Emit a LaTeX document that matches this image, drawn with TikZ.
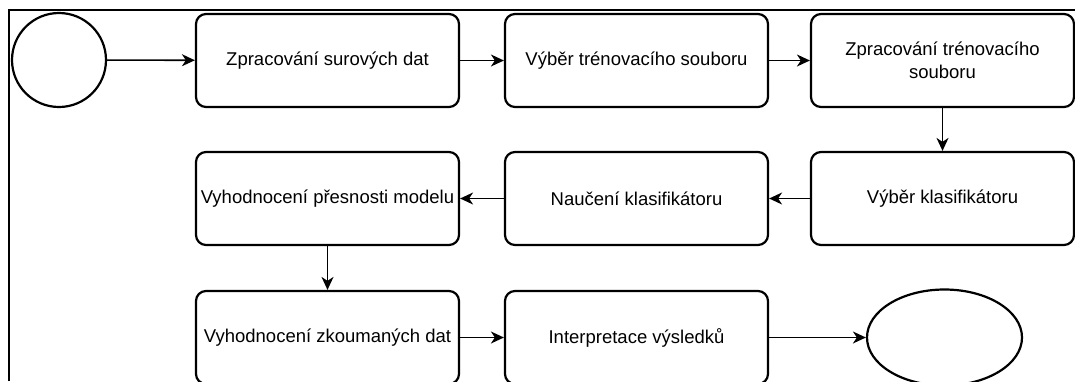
\documentclass[tikz,border=0pt]{standalone}
\usepackage{fontspec}
\setmainfont{Liberation Sans}
\usetikzlibrary{arrows.meta,shapes.geometric}
\begin{document}
\begin{tikzpicture}[x=1pt,y=-1pt,
  stepbox/.style={draw,line width=2.2pt,rounded corners=10pt,minimum width=263pt,minimum height=93pt,inner sep=0pt,align=center,font=\fontsize{18.5}{23}\selectfont},
  conn/.style={line width=1.6pt,-{Stealth[length=13pt,width=12pt,inset=4pt]}},
  frame/.style={line width=2.2pt}]
\useasboundingbox (0,0) rectangle (1075,381);
\begin{scope}
\clip (0,0) rectangle (1075,381);
\draw[frame] (9,381) -- (9,10) -- (1075,10);
\node[draw,circle,line width=2.2pt,minimum size=94pt,inner sep=0pt] (start) at (59,60) {};
\node[stepbox] (a) at (327.5,60.5) {Zpracování surových dat};
\node[stepbox] (b) at (636.5,60.5) {Výběr trénovacího souboru};
\node[stepbox] (c) at (942.5,60.5) {Zpracování trénovacího\\souboru};
\node[stepbox] (d) at (942.5,198.5) {Výběr klasifikátoru};
\node[stepbox] (e) at (636.5,198.5) {Naučení klasifikátoru};
\node[stepbox] (f) at (327.5,198.5) {Vyhodnocení přesnosti modelu};
\node[stepbox] (g) at (327.5,337.5) {Vyhodnocení zkoumaných dat};
\node[stepbox] (h) at (636.5,337.5) {Interpretace výsledků};
\node[draw,ellipse,line width=2.2pt,minimum width=155pt,minimum height=96pt,inner sep=0pt] (end) at (944.5,337.5) {};
\draw[conn] (start) -- (a);
\draw[conn] (a) -- (b);
\draw[conn] (b) -- (c);
\draw[conn] (c) -- (d);
\draw[conn] (d) -- (e);
\draw[conn] (e) -- (f);
\draw[conn] (f) -- (g);
\draw[conn] (g) -- (h);
\draw[conn] (h) -- (end);
\end{scope}
\end{tikzpicture}
\end{document}
